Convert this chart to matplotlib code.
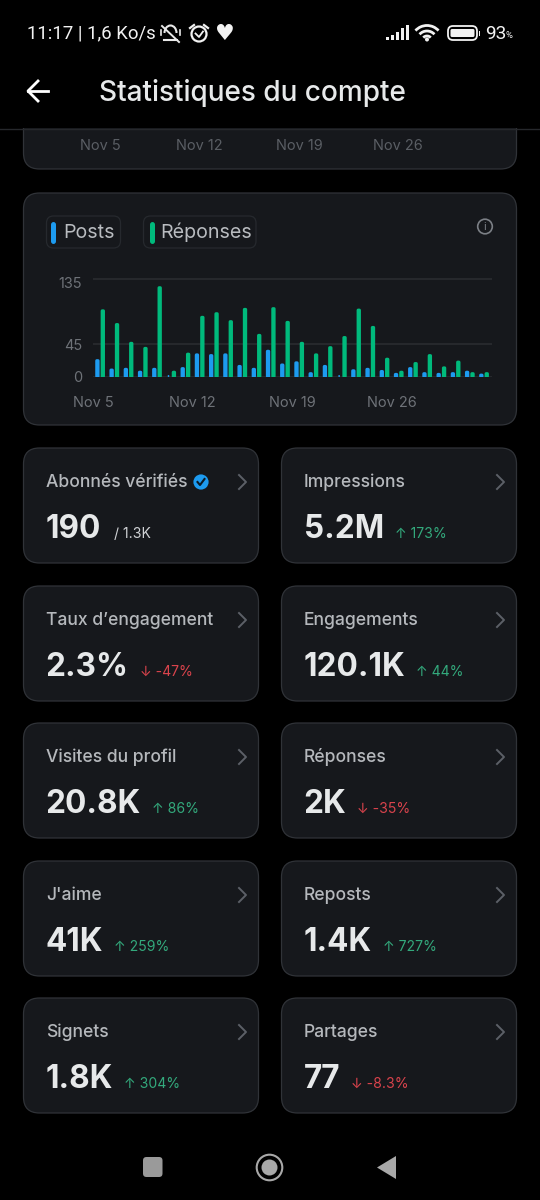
#!/usr/bin/env python3

import numpy as np
import matplotlib
matplotlib.use('Agg')
import matplotlib.pyplot as plt
from matplotlib.patches import FancyBboxPatch, Rectangle, Circle, Arc, Polygon
from matplotlib.transforms import ScaledTranslation

plt.rcParams['font.family'] = ['Inter', 'DejaVu Sans']

# Chart values
posts = [24, 11, 12, 8, 12, 2, 13, 32, 31, 32, 16, 12, 37, 18, 21, 6, 16, 2, 10, 12, 9, 5, 13, 6, 5, 6, 8, 4]
replies = [93, 74, 48, 41, 125, 8, 33, 84, 89, 78, 95, 59, 96, 77, 48, 32, 42, 56, 94, 70, 26, 8, 20, 31, 14, 22, 6, 6]
date_ticks = [0, 7, 14, 21]
date_labels = ['Nov 5', 'Nov 12', 'Nov 19', 'Nov 26']
y_ticks = [0, 45, 135]

# Metric cards, left column then right column
left_titles = ["Abonnés vérifiés", "Taux d’engagement", "Visites du profil", "J'aime", "Signets"]
left_values = ['190', '2.3%', '20.8K', '41K', '1.8K']
left_deltas = ['/ 1.3K', '↓ -47%', '↑ 86%', '↑ 259%', '↑ 304%']
right_titles = ['Impressions', 'Engagements', 'Réponses', 'Reposts', 'Partages']
right_values = ['5.2M', '120.1K', '2K', '1.4K', '77']
right_deltas = ['↑ 173%', '↑ 44%', '↓ -35%', '↑ 727%', '↓ -8.3%']

BLUE = '#1d9bf0'
GREEN = '#00ba7c'
UP = '#33a97c'
DOWN = '#d9434c'
CARD = '#16181c'
EDGE = '#303338'
W, H = 540, 1200


def px(size):
    return size * 0.72


fig = plt.figure(figsize=(W / 100, H / 100), dpi=100, facecolor='black')
bg = fig.add_axes([0, 0, 1, 1])
bg.set_xlim(0, W)
bg.set_ylim(H, 0)
bg.axis('off')


def card(x0, y0, x1, y1, r=16, z=1):
    bg.add_patch(FancyBboxPatch((x0 + r, y0 + r), x1 - x0 - 2 * r, y1 - y0 - 2 * r,
                                boxstyle=f'round,pad={r},rounding_size={r}',
                                fc=CARD, ec=EDGE, lw=0.9, zorder=z))


def chevron(x, y):
    bg.plot([x - 3.5, x + 3.5, x - 3.5], [y - 7, y, y + 7], color='#5c6067', lw=1.4, zorder=5)


# top card, scrolled under the header
card(23.5, 90, 516.5, 169)
for label, x in zip(date_labels, [100.5, 199.5, 299, 398]):
    bg.text(x, 146, label, color='#5a5e64', fontsize=px(14.5), ha='center', va='center', zorder=2)

# header
bg.add_patch(Rectangle((0, 0), W, 128, fc='black', ec='none', zorder=3))
bg.plot([0, W], [128.5, 128.5], color='#26282c', lw=1, zorder=4)
bg.text(27, 33.5, '11:17 | 1,6 Ko/s', color='#f2f2f2', fontsize=px(18.6), va='center',
        family='Roboto', zorder=5)
bg.text(99, 93, 'Statistiques du compte', color='#e7e9ea', fontsize=px(28), va='center',
        fontweight='medium', zorder=5)
bg.plot([28, 48], [91, 91], color='white', lw=2, zorder=5)
bg.plot([38, 28, 38], [81, 91, 101], color='white', lw=2, zorder=5)

# status bar icons
bg.plot([162, 179], [26, 42], color='#e8e8e8', lw=1.4, zorder=5)
bg.add_patch(Arc((170.5, 33), 12, 15, theta1=180, theta2=360, color='#e8e8e8', lw=1.5, zorder=5))
bg.plot([164, 177], [39.5, 39.5], color='#e8e8e8', lw=1.5, zorder=5)
bg.plot([161, 161], [30, 35], color='#e8e8e8', lw=1.2, zorder=5)
bg.plot([180, 180], [30, 35], color='#e8e8e8', lw=1.2, zorder=5)
bg.add_patch(Circle((199, 34), 7.5, fc='none', ec='#f2f2f2', lw=1.6, zorder=5))
bg.plot([195.5, 199, 203], [33.5, 37, 31.5], color='#f2f2f2', lw=1.3, zorder=5)
bg.plot([190, 194], [28, 25], color='#f2f2f2', lw=1.6, zorder=5)
bg.plot([204, 208], [25, 28], color='#f2f2f2', lw=1.6, zorder=5)
bg.text(224.5, 33.5, '♥', color='#f2f2f2', fontsize=px(22), ha='center', va='center',
        family='DejaVu Sans', zorder=5)
for i, bar_h in enumerate([3, 5, 8, 12, 15]):
    bg.add_patch(Rectangle((386 + i * 4.9, 40 - bar_h), 3, bar_h, fc='#f2f2f2', zorder=5))
for d in [10, 20, 31]:
    bg.add_patch(Arc((427, 41), d, d, theta1=222, theta2=318, color='#f2f2f2', lw=2, zorder=5))
bg.add_patch(Circle((427, 39.5), 2, fc='#f2f2f2', zorder=5))
bg.add_patch(FancyBboxPatch((451, 29), 23, 8, boxstyle='round,pad=3,rounding_size=5',
                            fc='none', ec='#f2f2f2', lw=1.3, zorder=5))
bg.add_patch(FancyBboxPatch((451.5, 30), 22, 6, boxstyle='round,pad=1,rounding_size=1.5',
                            fc='#f2f2f2', ec='none', zorder=5))
bg.add_patch(Rectangle((478.5, 31), 1.6, 5, fc='#f2f2f2', zorder=5))
bg.text(485, 34, '93', color='#f2f2f2', fontsize=px(19), va='center', family='Roboto', zorder=5)
bg.text(505.5, 35.5, '%', color='#f2f2f2', fontsize=px(9.5), va='center', family='Roboto', zorder=5)

# chart card and its legend
card(23.5, 193, 516.5, 425)
for x0, x1, bar_x, text_x, col, name in [(46.5, 120.5, 53, 63.5, BLUE, 'Posts'),
                                         (143.5, 256, 152, 160.5, GREEN, 'Réponses')]:
    bg.add_patch(FancyBboxPatch((x0 + 7, 223), x1 - x0 - 14, 18,
                                boxstyle='round,pad=7,rounding_size=7', fc=CARD, ec='#26292e', lw=0.9, zorder=2))
    bg.plot([bar_x, bar_x], [224, 241], color=col, lw=3.6, solid_capstyle='round', zorder=3)
    bg.text(text_x, 232.5, name, color='#b9bcc0', fontsize=px(19.6), va='center', zorder=3)
bg.add_patch(Circle((485, 226.5), 7.3, fc='none', ec='#7b7f85', lw=1.2, zorder=3))
bg.text(485, 226.5, 'i', color='#7b7f85', fontsize=px(11), ha='center', va='center', zorder=3)

# the bar chart itself, 0 at y=376.5 and 135 at y=279
left, right = 93, 492
y_bottom = 376.5
px_per_unit = (376.5 - 279) / 135
y_top = y_bottom - 140 * px_per_unit
ax = fig.add_axes([left / W, 1 - y_bottom / H, (right - left) / W, (y_bottom - y_top) / H])
ax.patch.set_alpha(0)
x = np.arange(len(posts))
# thick round-joined edges give the rounded bar tops
ax.bar(x - 0.19, np.array(posts) - 2, width=0.1, color=BLUE, edgecolor=BLUE, linewidth=2.1,
       joinstyle='round', snap=False, zorder=3)
ax.bar(x + 0.19, np.array(replies) - 2, width=0.1, color=GREEN, edgecolor=GREEN, linewidth=2.1,
       joinstyle='round', snap=False, zorder=3)
ax.set_xlim(-0.44, 27.56)
ax.set_ylim(0, 140)
ax.set_yticks(y_ticks, [str(v) for v in y_ticks])
ax.set_xticks(np.array(date_ticks) - 0.5, date_labels)
ax.grid(axis='y', color='#2b2d31', lw=1.1, zorder=1)
ax.tick_params(length=0, labelsize=px(14.5), labelcolor='#6e7278')
ax.tick_params(axis='y', pad=8)
ax.tick_params(axis='x', pad=14)
# the 135 label sits a little below its gridline in the app
lab = ax.get_yticklabels()[2]
lab.set_transform(lab.get_transform() + ScaledTranslation(0, -4 / 100, fig.dpi_scale_trans))
for s in ax.spines.values():
    s.set_visible(False)

# metric cards
tops = [448, 586, 723, 861, 998]
renderer = fig.canvas.get_renderer()


def metric(x0, y0, title, value, delta):
    card(x0, y0, x0 + 235, y0 + 115)
    bg.text(x0 + 22.5, y0 + 34.5, title, color='#b5b8bc', fontsize=px(17.5), va='center', zorder=3,
            fontweight='medium')
    chevron(x0 + 219, y0 + 34)
    t = bg.text(x0 + 22, y0 + 90, value, color='#e7e9ea', fontsize=px(31.5), va='baseline',
                fontweight='bold', zorder=3)
    end = t.get_window_extent(renderer).x1
    if delta.startswith('/'):
        col, gap = '#d0d2d5', 13
    else:
        col, gap = (UP if delta.startswith('↑') else DOWN), 11
    bg.text(end + gap, y0 + 90, delta, color=col, fontsize=px(14), va='baseline', zorder=3)


for top, title, value, delta in zip(tops, left_titles, left_values, left_deltas):
    metric(23.5, top, title, value, delta)
for top, title, value, delta in zip(tops, right_titles, right_values, right_deltas):
    metric(281.5, top, title, value, delta)

# verified badge
bg.add_patch(Circle((201, 482), 7.6, fc=BLUE, zorder=4))
bg.plot([197.5, 200, 204.5], [482, 485, 479], color='#0b1a26', lw=1.5, zorder=5)

# navigation bar
bg.add_patch(FancyBboxPatch((146, 1160), 13.5, 14, boxstyle='round,pad=3,rounding_size=3.5', fc='#9a9a9a', ec='none'))
bg.add_patch(Circle((269.5, 1167.5), 12.8, fc='none', ec='#a8a8a8', lw=1.5))
bg.add_patch(Circle((269.5, 1167.5), 8, fc='#a8a8a8'))
bg.add_patch(Polygon([[377, 1167.5], [396, 1156], [396, 1179]], closed=True, fc='#a8a8a8', ec='none'))

fig.savefig('out.png', dpi=100, facecolor='black')
